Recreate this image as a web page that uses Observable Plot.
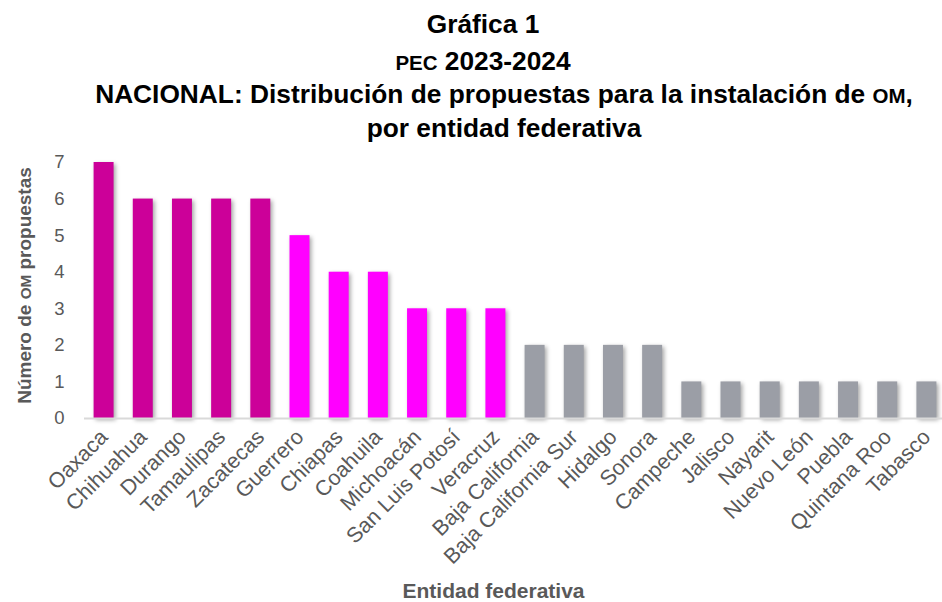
<!DOCTYPE html>
<html>
<head>
<meta charset="utf-8">
<script src="https://cdn.jsdelivr.net/npm/d3@7"></script>
<script src="https://cdn.jsdelivr.net/npm/@observablehq/plot@0.6"></script>
<style>
  html, body { margin: 0; padding: 0; background: #fff; }
  body { width: 942px; height: 602px; overflow: hidden; font-family: "Liberation Sans", Arial, sans-serif; }
  #title { position: relative; height: 148px; color: #000; font-weight: bold; font-size: 26.3px; }
  #title div { position: absolute; left: 0; width: 942px; text-align: center; height: 36px; line-height: 36px; white-space: nowrap; }
  .sc { font-size: 0.78em; }
  #chart svg { display: block; overflow: visible; }
</style>
</head>
<body>
<div id="title">
  <div style="top:6px; left:12px">Gráfica 1</div>
  <div style="top:43px; left:12px"><span class="sc">PEC</span> 2023-2024</div>
  <div style="top:76px; left:33px">NACIONAL: Distribución de propuestas para la instalación de <span class="sc">OM</span>,</div>
  <div style="top:110px; left:33px">por entidad federativa</div>
</div>
<div id="chart"></div>
<script>
const entidades = ["Oaxaca","Chihuahua","Durango","Tamaulipas","Zacatecas","Guerrero","Chiapas","Coahuila","Michoacán","San Luis Potosí","Veracruz","Baja California","Baja California Sur","Hidalgo","Sonora","Campeche","Jalisco","Nayarit","Nuevo León","Puebla","Quintana Roo","Tabasco"];
const propuestas = [7,6,6,6,6,5,4,4,3,3,3,2,2,2,2,1,1,1,1,1,1,1];
const grupos = ["alto","alto","alto","alto","alto","medio","medio","medio","medio","medio","medio","bajo","bajo","bajo","bajo","bajo","bajo","bajo","bajo","bajo","bajo","bajo"];
const yTicks = [0,1,2,3,4,5,6,7];

const data = entidades.map((e, i) => ({entidad: e, valor: propuestas[i], grupo: grupos[i]}));

const plot = Plot.plot({
  width: 942,
  height: 454,
  marginLeft: 84,
  marginRight: -4,
  marginTop: 14,
  marginBottom: 184,
  style: {fontFamily: "Liberation Sans, Arial, sans-serif", background: "#fff", overflow: "visible"},
  x: {domain: entidades, paddingInner: 0.49, paddingOuter: 0.245, round: false, label: null},
  y: {domain: [0, 7], label: null},
  color: {domain: ["alto","medio","bajo"], range: ["#CC0099","#FF00FF","#9B9EA6"]},
  marks: [
    Plot.barY(data, {x: "entidad", y: "valor", fill: "grupo"}),
    Plot.ruleY([0], {stroke: "#D9D9D9", strokeWidth: 2}),
    Plot.axisY({ticks: yTicks, tickFormat: "d", tickSize: 0, tickPadding: 20, fontSize: 18.5, fill: "#595959", label: null}),
    Plot.axisX({tickSize: 0, tickPadding: 15, tickRotate: -45, fontSize: 21.5, fill: "#595959", label: null}),
    Plot.text(["Entidad federativa"], {frameAnchor: "bottom", dx: -22, dy: 179, fontSize: 21, fontWeight: "bold", fill: "#595959"}),
    Plot.text(["Número de OM propuestas"], {frameAnchor: "left", textAnchor: "middle", dx: -60, dy: -5, rotate: -90, fontSize: 19, fontWeight: "bold", fill: "#595959"})
  ]
});
document.getElementById("chart").appendChild(plot);

// drop shadow on bars
d3.select(plot).selectAll("g[aria-label='bar']").style("filter", "drop-shadow(2px 2px 2px rgba(0,0,0,0.35))");
// small caps OM in y label
d3.select(plot).selectAll("text").filter(function() { return this.textContent === "Número de OM propuestas"; })
  .each(function() {
    const t = d3.select(this);
    t.text(null);
    t.append("tspan").text("Número de ");
    t.append("tspan").attr("font-size", "0.8em").text("OM");
    t.append("tspan").text(" propuestas");
  });
</script>
</body>
</html>
